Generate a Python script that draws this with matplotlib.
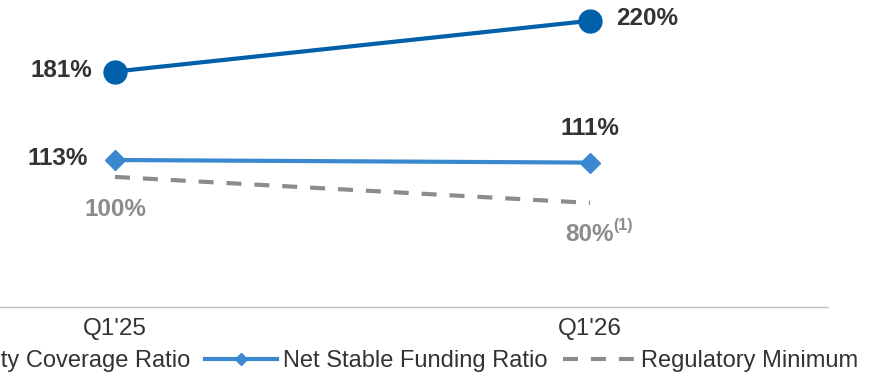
import matplotlib.pyplot as plt

plt.rcParams['font.family'] = ['Liberation Sans', 'DejaVu Sans']

quarters = ["Q1'25", "Q1'26"]
lcr = [181, 220]
nsfr = [113, 111]
reg_min = [100, 80]

c_lcr = '#0060A9'
c_nsfr = '#3A88D0'
c_reg = '#8C8C8C'
c_text = '#333333'

fig = plt.figure(figsize=(8.86, 3.77), dpi=100)
# axes runs a bit past the left edge, like the cropped original
ax = fig.add_axes([-122.5 / 886, 1 - 307 / 377, 950 / 886, 307 / 377])

x = range(len(quarters))
ax.plot(x, lcr, color=c_lcr, lw=3, marker='o', ms=16.5, label='Liquidity Coverage Ratio', zorder=3)
ax.plot(x, nsfr, color=c_nsfr, lw=3, marker='D', ms=10.5, label='Net Stable Funding Ratio', zorder=3)
ax.plot(x, reg_min, color=c_reg, lw=3, ls=(0, (3.6, 3.1)), label='Regulatory Minimum', zorder=2)

ax.set_xlim(-0.5, 1.5)
ax.set_ylim(0, 236)
ax.set_xticks(list(x))
ax.set_xticklabels(quarters, fontsize=17.5, color=c_text)
ax.tick_params(axis='x', length=0, pad=8)
ax.set_yticks([])
for s in ['left', 'right', 'top']:
    ax.spines[s].set_visible(False)
ax.spines['bottom'].set_color('#C0C0C0')
ax.spines['bottom'].set_linewidth(1)

lbl = dict(textcoords='offset pixels', fontsize=17.5, fontweight='bold', va='center')
ax.annotate(f'{lcr[0]}%', (0, lcr[0]), xytext=(-23, 1), ha='right', color=c_text, **lbl)
ax.annotate(f'{lcr[1]}%', (1, lcr[1]), xytext=(26, 2), ha='left', color=c_text, **lbl)
ax.annotate(f'{nsfr[0]}%', (0, nsfr[0]), xytext=(-27, 2), ha='right', color=c_text, **lbl)
ax.annotate(f'{nsfr[1]}%', (1, nsfr[1]), xytext=(0, 34), ha='center', color=c_text, **lbl)
ax.annotate(f'{reg_min[0]}%', (0, reg_min[0]), xytext=(0, -33), ha='center', color=c_reg, **lbl)
ax.annotate(f'{reg_min[1]}%', (1, reg_min[1]), xytext=(0, -32), ha='center', color=c_reg, **lbl)
ax.annotate('(1)', (1, reg_min[1]), xytext=(23, -23), ha='left', va='center',
            textcoords='offset pixels', fontsize=11.5, fontweight='bold', color=c_reg)

fig.legend(loc='center right', bbox_to_anchor=(858 / 886, 1 - 361 / 377), ncol=3,
           frameon=False, fontsize=17, handlelength=3.05, handletextpad=0.25,
           columnspacing=0.64, markerscale=0.55, borderpad=0, borderaxespad=0,
           labelcolor=c_text)

fig.savefig('out.png', dpi=100)
